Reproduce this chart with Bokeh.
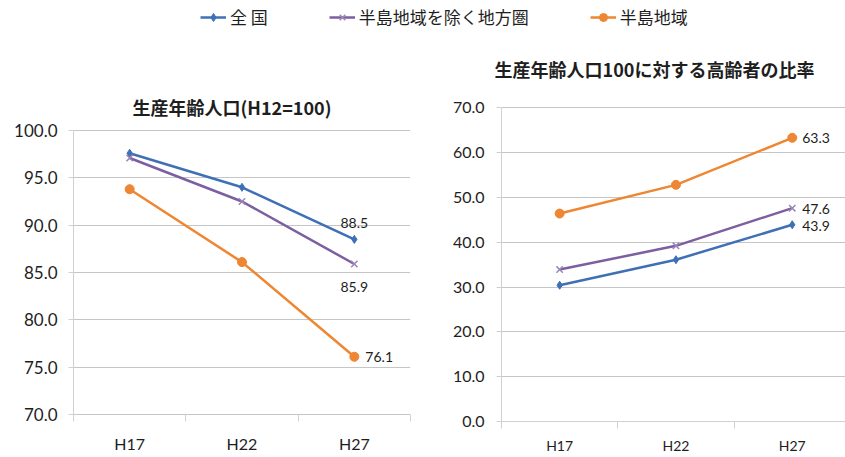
from bokeh.plotting import figure
from bokeh.layouts import column, row
from bokeh.models import Range1d, FixedTicker, NumeralTickFormatter, Legend, LegendItem, Label
from bokeh.core.properties import value
from bokeh.embed import file_html
from bokeh.resources import INLINE

# ---------------- data ----------------
categories = ["H17", "H22", "H27"]
series_names = ["全 国", "半島地域を除く地方圏", "半島地域"]

# 生産年齢人口 (H12=100)
working_age_national = [97.6, 94.0, 88.5]
working_age_rural = [97.1, 92.5, 85.9]
working_age_peninsula = [93.8, 86.1, 76.1]

# 生産年齢人口100に対する高齢者の比率
elderly_national = [30.4, 36.1, 43.9]
elderly_rural = [33.9, 39.2, 47.6]
elderly_peninsula = [46.4, 52.8, 63.3]

left_yticks = [70, 75, 80, 85, 90, 95, 100]
right_yticks = [0, 10, 20, 30, 40, 50, 60, 70]
title_left = "生産年齢人口(H12=100)"
title_right = "生産年齢人口100に対する高齢者の比率"

# ---------------- styles ----------------
COLORS = ["#3F70B6", "#7B5FA0", "#EE8632"]
MARKERS = ["diamond", "x", "circle"]
MSIZES = [8, 9, 9]
JP = "Noto Sans CJK JP"
NUM = "Lato"
GRID = "#C6C6C6"
AXIS = "#D0D0D0"
TXT = "#1E1E1E"

xpos = [i + 0.5 for i in range(len(categories))]
xlabels = {xp: c for xp, c in zip(xpos, categories)}


def style_axes(p, yticks, ytick_size, xtick_size, tick_in, tick_out, xstandoff, ybounds):
    xa = p.xaxis[0]
    xa.ticker = FixedTicker(ticks=xpos, minor_ticks=list(range(len(categories) + 1)))
    xa.major_label_overrides = xlabels
    xa.major_tick_line_color = None
    xa.major_tick_out = 0
    xa.major_tick_in = 0
    xa.minor_tick_out = tick_out
    xa.minor_tick_in = tick_in
    xa.minor_tick_line_color = AXIS
    xa.axis_line_color = AXIS
    xa.major_label_standoff = xstandoff
    xa.major_label_text_font = NUM
    xa.major_label_text_font_size = xtick_size
    xa.major_label_text_color = TXT

    ya = p.yaxis[0]
    ya.ticker = FixedTicker(ticks=yticks)
    ya.formatter = NumeralTickFormatter(format="0.0")
    ya.axis_line_color = AXIS
    ya.major_tick_line_color = AXIS
    ya.major_tick_out = 5
    ya.major_tick_in = 0
    ya.minor_tick_line_color = None
    ya.major_label_standoff = 11
    ya.major_label_text_font = NUM
    ya.major_label_text_font_size = ytick_size
    ya.major_label_text_color = TXT
    ya.bounds = ybounds

    p.xgrid.visible = False
    p.ygrid.grid_line_color = GRID
    p.ygrid.grid_line_width = 1
    p.outline_line_color = None


def add_marker(p, x, y, col, mk, ms):
    if mk == "x":
        return p.scatter(x, y, marker=mk, size=ms, line_color="#9A86B8", line_width=1.5)
    return p.scatter(x, y, marker=mk, size=ms, fill_color=col, line_color=col)


def draw_series(p, series):
    for vals, col, mk, ms in zip(series, COLORS, MARKERS, MSIZES):
        p.line(xpos, vals, line_color=col, line_width=2.5)
        add_marker(p, xpos, vals, col, mk, ms)


def data_label(p, vals, align, baseline, xoff, yoff):
    p.text(x=[xpos[-1]], y=[vals[-1]], text=[f"{vals[-1]:.1f}"],
           text_font=value(NUM), text_font_size="14px", text_color=TXT,
           text_align=align, text_baseline=baseline, x_offset=xoff, y_offset=yoff)


TITLE_STYLE = dict(text_font=JP, text_font_size="18px", text_font_style="bold",
                   text_color=TXT, text_align="center", text_baseline="middle")

# ---------------- top strip: legend + right title ----------------
W, H_TOP = 845, 95
top = figure(width=W, height=H_TOP, output_backend="svg", toolbar_location=None,
             x_range=Range1d(0, W), y_range=Range1d(H_TOP, 0),
             x_axis_location=None, y_axis_location=None, min_border=0,
             min_border_left=0, min_border_right=0, min_border_top=0, min_border_bottom=0)
top.outline_line_color = None
top.grid.visible = False
nan = float("nan")
items = []
for name, col, mk, ms in zip(series_names, COLORS, MARKERS, MSIZES):
    lr = top.line(x=[nan, nan], y=[nan, nan], line_color=col, line_width=2.5)
    sr = add_marker(top, [nan], [nan], col, mk, ms)
    items.append(LegendItem(label=name, renderers=[lr, sr]))
legend = Legend(items=items, orientation="horizontal", location=(200, H_TOP - 29),
                glyph_width=26, glyph_height=20, label_standoff=4, spacing=61,
                padding=0, margin=0, border_line_color=None, background_fill_alpha=0,
                label_text_font=JP, label_text_font_size="17px", label_text_color=TXT)
top.add_layout(legend, "center")
top.add_layout(Label(x=654, y=68, text=title_right, **TITLE_STYLE))

# ---------------- left chart ----------------
H_ROW = 457 - H_TOP
p1 = figure(width=420, height=H_ROW, output_backend="svg", toolbar_location=None,
            x_range=Range1d(0, len(categories)), y_range=Range1d(69.26, 103.70),
            min_border_left=73, min_border_right=10, min_border_top=0, min_border_bottom=36)
style_axes(p1, left_yticks, "17px", "16px", tick_in=7, tick_out=0, xstandoff=12,
           ybounds=(70, 100))
p1.xaxis[0].axis_line_color = None
draw_series(p1, [working_age_national, working_age_rural, working_age_peninsula])
data_label(p1, working_age_national, "center", "bottom", 0, -11)
data_label(p1, working_age_rural, "center", "top", 0, 18)
data_label(p1, working_age_peninsula, "left", "middle", 11, 0)
p1.add_layout(Label(x=1.5, y=p1.y_range.end, text=title_left, x_offset=-10, y_offset=-11,
                    **TITLE_STYLE))

# ---------------- right chart ----------------
p2 = figure(width=425, height=H_ROW, output_backend="svg", toolbar_location=None,
            x_range=Range1d(0, 2.958), y_range=Range1d(0, 72.74),
            min_border_left=81, min_border_right=0, min_border_top=0, min_border_bottom=36)
style_axes(p2, right_yticks, "16px", "14px", tick_in=0, tick_out=7, xstandoff=8,
           ybounds=(0, 70))
p2.yaxis[0].major_label_standoff = 12
draw_series(p2, [elderly_national, elderly_rural, elderly_peninsula])
data_label(p2, elderly_peninsula, "left", "middle", 10, 0)
data_label(p2, elderly_rural, "left", "middle", 10, 1)
data_label(p2, elderly_national, "left", "middle", 10, 1)

layout = column(top, row(p1, p2, spacing=0), spacing=0)
open("out.html", "w").write(file_html(layout, INLINE))
